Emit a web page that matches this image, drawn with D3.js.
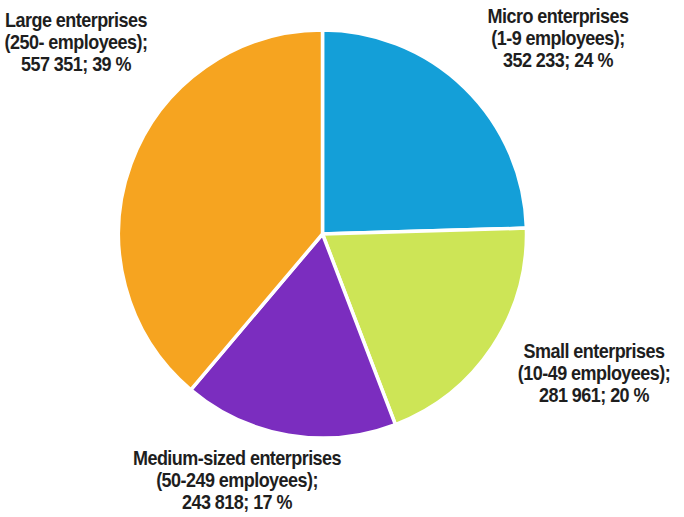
<!DOCTYPE html>
<html>
<head>
<meta charset="utf-8">
<script src="https://cdn.jsdelivr.net/npm/d3@7"></script>
<style>
  html, body { margin: 0; padding: 0; background: #fff; }
  svg { display: block; }
  .lbl { font-family: "Liberation Sans", Arial, sans-serif; font-weight: bold; font-size: 20px; fill: #1e1e1e; letter-spacing: -0.6px; }
</style>
</head>
<body>
<svg id="chart"></svg>
<script>
// enterprise size classes, clockwise from 12 o'clock
const categories = ['Micro enterprises', 'Small enterprises', 'Medium-sized enterprises', 'Large enterprises'];
const employees = ['(1-9 employees);', '(10-49 employees);', '(50-249 employees);', '(250- employees);'];
const values = [352233, 281961, 243818, 557351];
const valueLabels = ['352 233; 24 %', '281 961; 20 %', '243 818; 17 %', '557 351; 39 %'];
const sliceColors = ['#149fd8', '#cde556', '#7b2dbf', '#f6a420'];

const totalWidth = 684;
const totalHeight = 517;
const cx = 322.5;
const cy = 234;
const radius = 204;

const svg = d3.select('#chart')
  .attr('width', totalWidth)
  .attr('height', totalHeight);

const pie = d3.pie().sort(null).value((d) => d);
const arc = d3.arc().innerRadius(0).outerRadius(radius);
const arcs = pie(values);

/* slices */
svg.append('g')
  .attr('transform', `translate(${cx}, ${cy})`)
  .selectAll('path')
  .data(arcs)
  .enter()
  .append('path')
  .attr('d', arc)
  .attr('fill', (d, i) => sliceColors[i])
  .attr('stroke', '#fff')
  .attr('stroke-width', 3.5)
  .attr('stroke-linejoin', 'miter');

/* labels outside the pie; text is squeezed to mimic a narrow face */
const labelPos = [
  [558, 23],   // micro
  [594, 358],  // small
  [237, 465],  // medium
  [76, 27]     // large
];
const LINE_H = 22;
const SQUEEZE = 0.9;

svg.append('g')
  .selectAll('text')
  .data(arcs)
  .enter()
  .append('text')
  .attr('class', 'lbl')
  .attr('text-anchor', 'middle')
  .attr('transform', (d, i) => `translate(${labelPos[i][0]}, ${labelPos[i][1]}) scale(${SQUEEZE}, 1)`)
  .each(function (d, i) {
    const t = d3.select(this);
    [categories[i], employees[i], valueLabels[i]].forEach((line, j) => {
      t.append('tspan')
        .attr('x', 0)
        .attr('y', j * LINE_H)
        .text(line);
    });
  });
</script>
</body>
</html>
